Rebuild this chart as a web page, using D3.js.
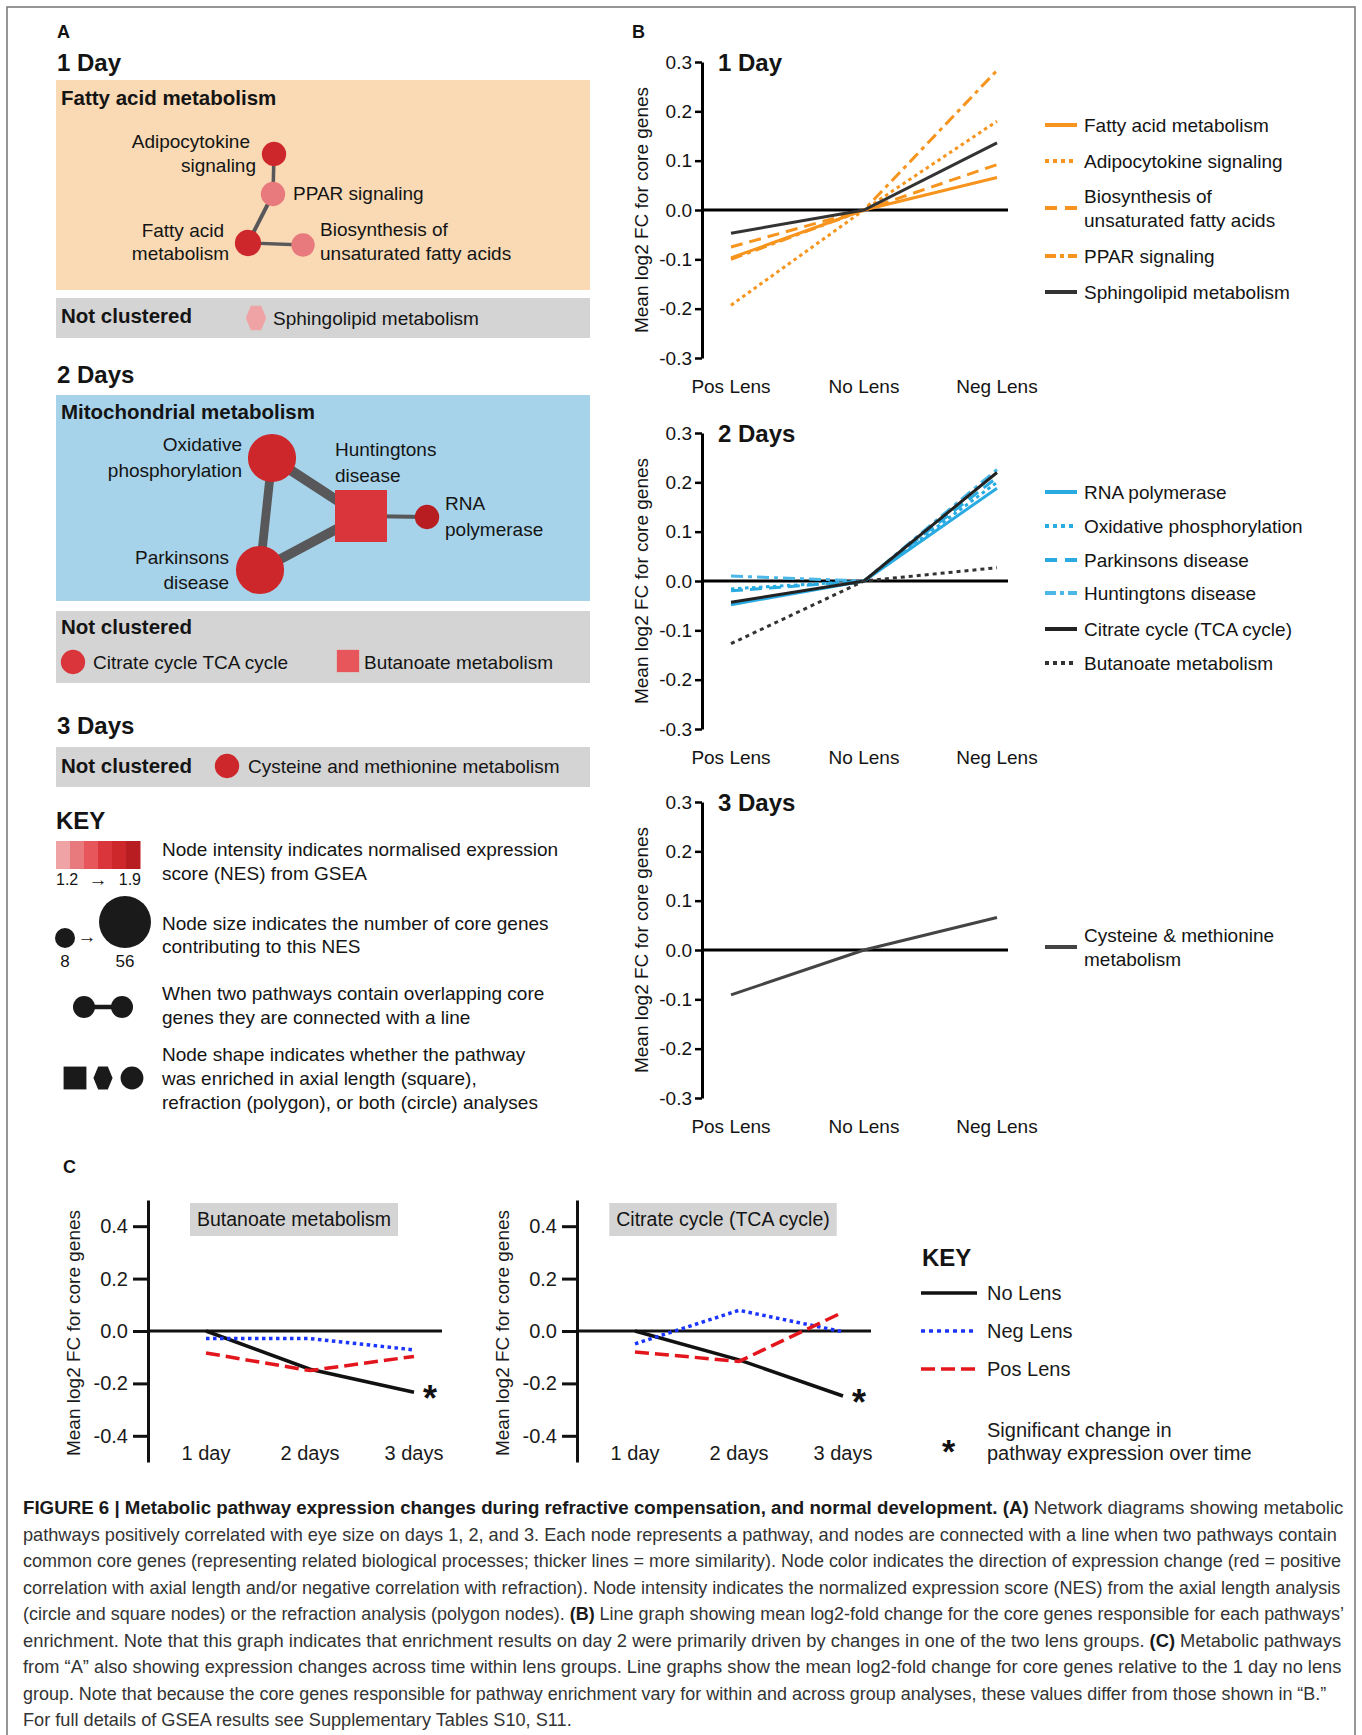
<!DOCTYPE html>
<html>
<head>
<meta charset="utf-8">
<title>Figure 6 – Metabolic pathway expression</title>
<script src="https://cdn.jsdelivr.net/npm/d3@7/dist/d3.min.js"></script>
<style>
  html, body { margin: 0; padding: 0; background: #fff; }
  svg { display: block; }
</style>
</head>
<body>
<svg id="fig" width="1362" height="1735"></svg>
<script>
// ---------------- data ----------------

// Panel B: mean log2 FC for core genes per lens group
const lensGroups = ["Pos Lens", "No Lens", "Neg Lens"];
const fcTicks = [-0.3, -0.2, -0.1, 0, 0.1, 0.2, 0.3];

const day1Pathways = ["Fatty acid metabolism", "Adipocytokine signaling",
  "Biosynthesis of|unsaturated fatty acids", "PPAR signaling", "Sphingolipid metabolism"];
const day1FC = [
  [-0.097, 0, 0.066],
  [-0.193, 0, 0.180],
  [-0.075, 0, 0.092],
  [-0.100, 0, 0.283],
  [-0.047, 0, 0.136]
];

const day2Pathways = ["RNA polymerase", "Oxidative phosphorylation", "Parkinsons disease",
  "Huntingtons disease", "Citrate cycle (TCA cycle)", "Butanoate metabolism"];
const day2FC = [
  [-0.048, 0, 0.188],
  [-0.016, 0, 0.200],
  [-0.020, 0, 0.210],
  [ 0.010, 0, 0.226],
  [-0.043, 0, 0.220],
  [-0.127, 0, 0.027]
];

const day3Pathways = ["Cysteine & methionine|metabolism"];
const day3FC = [[-0.091, 0, 0.066]];

// Panel C: change across time within lens groups
const timePoints = ["1 day", "2 days", "3 days"];
const timeTicks = [-0.4, -0.2, 0, 0.2, 0.4];
const lensSeries = ["No Lens", "Neg Lens", "Pos Lens"];
const butanoateFC = [
  [0.000, -0.146, -0.234],
  [-0.029, -0.029, -0.072],
  [-0.084, -0.151, -0.097]
];
const citrateFC = [
  [0.000, -0.110, -0.248],
  [-0.049, 0.079, -0.003],
  [-0.080, -0.116, 0.072]
];
const significantSeries = ["No Lens"];

// Panel A: network nodes (NES, number of core genes, enrichment analysis shape)
const nesRange = [1.2, 1.9];
const coreGeneRange = [8, 56];
const day1Nodes = [
  { name: "Adipocytokine signaling", nes: 1.74, genes: 12, shape: "circle" },
  { name: "PPAR signaling", nes: 1.40, genes: 12, shape: "circle" },
  { name: "Fatty acid metabolism", nes: 1.70, genes: 14, shape: "circle" },
  { name: "Biosynthesis of unsaturated fatty acids", nes: 1.42, genes: 11, shape: "circle" }
];
const day1Edges = [
  ["Adipocytokine signaling", "PPAR signaling", 0.32],
  ["PPAR signaling", "Fatty acid metabolism", 0.36],
  ["Fatty acid metabolism", "Biosynthesis of unsaturated fatty acids", 0.30]
];
const day1Unclustered = [
  { name: "Sphingolipid metabolism", nes: 1.25, genes: 12, shape: "polygon" }
];
const day2Nodes = [
  { name: "Oxidative phosphorylation", nes: 1.75, genes: 48, shape: "circle" },
  { name: "Parkinsons disease", nes: 1.75, genes: 48, shape: "circle" },
  { name: "Huntingtons disease", nes: 1.62, genes: 56, shape: "square" },
  { name: "RNA polymerase", nes: 1.85, genes: 12, shape: "circle" }
];
const day2Edges = [
  ["Oxidative phosphorylation", "Parkinsons disease", 0.80],
  ["Oxidative phosphorylation", "Huntingtons disease", 0.90],
  ["Parkinsons disease", "Huntingtons disease", 0.90],
  ["Huntingtons disease", "RNA polymerase", 0.36]
];
const day2Unclustered = [
  { name: "Citrate cycle TCA cycle", nes: 1.63, genes: 12, shape: "circle" },
  { name: "Butanoate metabolism", nes: 1.50, genes: 10, shape: "square" }
];
const day3Unclustered = [
  { name: "Cysteine and methionine metabolism", nes: 1.74, genes: 12, shape: "circle" }
];

// Caption text, line by line ([text, bold])
const captionLines = [
  [["FIGURE 6 | Metabolic pathway expression changes during refractive compensation, and normal development. (A)", true], [" Network diagrams showing metabolic", false]],
  [["pathways positively correlated with eye size on days 1, 2, and 3. Each node represents a pathway, and nodes are connected with a line when two pathways contain", false]],
  [["common core genes (representing related biological processes; thicker lines = more similarity). Node color indicates the direction of expression change (red = positive", false]],
  [["correlation with axial length and/or negative correlation with refraction). Node intensity indicates the normalized expression score (NES) from the axial length analysis", false]],
  [["(circle and square nodes) or the refraction analysis (polygon nodes). ", false], ["(B)", true], [" Line graph showing mean log2-fold change for the core genes responsible for each pathways\u2019", false]],
  [["enrichment. Note that this graph indicates that enrichment results on day 2 were primarily driven by changes in one of the two lens groups. ", false], ["(C)", true], [" Metabolic pathways", false]],
  [["from \u201cA\u201d also showing expression changes across time within lens groups. Line graphs show the mean log2-fold change for core genes relative to the 1 day no lens", false]],
  [["group. Note that because the core genes responsible for pathway enrichment vary for within and across group analyses, these values differ from those shown in \u201cB.\u201d", false]],
  [["For full details of GSEA results see Supplementary Tables S10, S11.", false]]
];

// ---------------- styles & helpers ----------------
const FONT = '"Liberation Sans", Arial, Helvetica, sans-serif';
const ORANGE = "#f7941d";
const SKY = "#29abe2";
const nesShades = ["#f0a3a5", "#e8797d", "#e6565a", "#d9353a", "#cd272c", "#b81d22"];
const nesColor = d3.scaleQuantize().domain(nesRange).range(nesShades);
const geneRadius = d3.scaleSqrt().domain(coreGeneRange).range([10, 26]);
const overlapWidth = d3.scaleLinear().domain([0, 1]).range([0, 11]);

const svg = d3.select("#fig");

function label(parent, x, y, str, size, anchor = "start", weight = "normal", fill = "#141414") {
  return parent.append("text")
    .attr("x", x).attr("y", y).attr("dy", "0.35em")
    .attr("font-family", FONT).attr("font-size", size)
    .attr("font-weight", weight).attr("text-anchor", anchor)
    .attr("fill", fill).text(str);
}

function hexPath(cx, cy, r) {
  const w = r * 0.84, h = r;
  const pts = [[-w, 0], [-w / 2, -h], [w / 2, -h], [w, 0], [w / 2, h], [-w / 2, h]];
  return "M" + pts.map(p => (cx + p[0]) + "," + (cy + p[1])).join("L") + "Z";
}

function drawNode(parent, node, cx, cy, fill) {
  const r = geneRadius(node.genes);
  const color = fill || nesColor(node.nes);
  if (node.shape === "circle") {
    parent.append("circle").attr("cx", cx).attr("cy", cy).attr("r", r).attr("fill", color);
  } else if (node.shape === "square") {
    parent.append("rect").attr("x", cx - r).attr("y", cy - r)
      .attr("width", 2 * r).attr("height", 2 * r).attr("fill", color);
  } else {
    parent.append("path").attr("d", hexPath(cx, cy, r)).attr("fill", color);
  }
}

function drawNetwork(parent, nodes, edges, layout) {
  parent.selectAll(null).data(edges).enter().append("line")
    .attr("x1", d => layout[d[0]].x).attr("y1", d => layout[d[0]].y)
    .attr("x2", d => layout[d[1]].x).attr("y2", d => layout[d[1]].y)
    .attr("stroke", "#58585a").attr("stroke-width", d => overlapWidth(d[2]));
  nodes.forEach(n => {
    const p = layout[n.name];
    drawNode(parent, n, p.x, p.y);
    p.labels.forEach(l => label(parent, l[0], l[1], l[2], 19, p.anchor));
  });
}

// ---------------- frame ----------------
svg.append("rect").attr("x", 7).attr("y", 7).attr("width", 1348).attr("height", 1760)
  .attr("fill", "none").attr("stroke", "#7d7d7d").attr("stroke-width", 1.6);

// ---------------- panel A ----------------
const gA = svg.append("g");
label(gA, 57, 32, "A", 18, "start", "bold");

// 1 Day
label(gA, 57, 63, "1 Day", 24, "start", "bold");
gA.append("rect").attr("x", 56).attr("y", 80).attr("width", 534).attr("height", 210).attr("fill", "#f9dab4");
label(gA, 61, 98, "Fatty acid metabolism", 20.5, "start", "bold");
drawNetwork(gA, day1Nodes, day1Edges, {
  "Adipocytokine signaling": { x: 274, y: 154, anchor: "end", labels: [[250, 141, "Adipocytokine"], [256, 165, "signaling"]] },
  "PPAR signaling": { x: 273, y: 194, anchor: "start", labels: [[293, 193, "PPAR signaling"]] },
  "Fatty acid metabolism": { x: 248, y: 243, anchor: "end", labels: [[224, 230, "Fatty acid"], [229, 253, "metabolism"]] },
  "Biosynthesis of unsaturated fatty acids": { x: 303, y: 245, anchor: "start", labels: [[320, 229, "Biosynthesis of"], [320, 253, "unsaturated fatty acids"]] }
});
gA.append("rect").attr("x", 56).attr("y", 298).attr("width", 534).attr("height", 40).attr("fill", "#d4d4d4");
label(gA, 61, 316, "Not clustered", 20.5, "start", "bold");
drawNode(gA, day1Unclustered[0], 256, 318);
label(gA, 273, 318, day1Unclustered[0].name, 19);

// 2 Days
label(gA, 57, 375, "2 Days", 24, "start", "bold");
gA.append("rect").attr("x", 56).attr("y", 395).attr("width", 534).attr("height", 206).attr("fill", "#a7d3ea");
label(gA, 61, 412, "Mitochondrial metabolism", 20.5, "start", "bold");
drawNetwork(gA, day2Nodes, day2Edges, {
  "Oxidative phosphorylation": { x: 272, y: 458, anchor: "end", labels: [[242, 444, "Oxidative"], [242, 470, "phosphorylation"]] },
  "Parkinsons disease": { x: 260, y: 570, anchor: "end", labels: [[229, 557, "Parkinsons"], [229, 582, "disease"]] },
  "Huntingtons disease": { x: 361, y: 516, anchor: "start", labels: [[335, 449, "Huntingtons"], [335, 475, "disease"]] },
  "RNA polymerase": { x: 427, y: 517, anchor: "start", labels: [[445, 503, "RNA"], [445, 529, "polymerase"]] }
});
gA.append("rect").attr("x", 56).attr("y", 611).attr("width", 534).attr("height", 72).attr("fill", "#d4d4d4");
label(gA, 61, 627, "Not clustered", 20.5, "start", "bold");
drawNode(gA, day2Unclustered[0], 73, 662);
label(gA, 93, 662, day2Unclustered[0].name, 19);
drawNode(gA, day2Unclustered[1], 348, 661);
label(gA, 364, 662, day2Unclustered[1].name, 19);

// 3 Days
label(gA, 57, 726, "3 Days", 24, "start", "bold");
gA.append("rect").attr("x", 56).attr("y", 747).attr("width", 534).attr("height", 40).attr("fill", "#d4d4d4");
label(gA, 61, 766, "Not clustered", 20.5, "start", "bold");
drawNode(gA, day3Unclustered[0], 227, 766);
label(gA, 248, 766, day3Unclustered[0].name, 19);

// KEY
label(gA, 56, 821, "KEY", 24, "start", "bold");
gA.selectAll(null).data(nesColor.range()).enter().append("rect")
  .attr("x", (d, i) => 56 + i * 14).attr("y", 841).attr("width", 14.5).attr("height", 28)
  .attr("fill", d => d);
label(gA, 56, 879, nesRange[0].toFixed(1), 16);
label(gA, 98, 879, "\u2192", 19, "middle");
label(gA, 141, 879, nesRange[1].toFixed(1), 16, "end");
label(gA, 162, 849, "Node intensity indicates normalised expression", 19);
label(gA, 162, 873, "score (NES) from GSEA", 19);

gA.append("circle").attr("cx", 65).attr("cy", 938).attr("r", geneRadius(coreGeneRange[0])).attr("fill", "#1a1a1a");
label(gA, 87, 936, "\u2192", 19, "middle");
gA.append("circle").attr("cx", 125).attr("cy", 922).attr("r", geneRadius(coreGeneRange[1])).attr("fill", "#1a1a1a");
label(gA, 65, 961, String(coreGeneRange[0]), 17, "middle");
label(gA, 125, 961, String(coreGeneRange[1]), 17, "middle");
label(gA, 162, 923, "Node size indicates the number of core genes", 19);
label(gA, 162, 946, "contributing to this NES", 19);

gA.append("line").attr("x1", 84).attr("x2", 122).attr("y1", 1007).attr("y2", 1007)
  .attr("stroke", "#1a1a1a").attr("stroke-width", 4.5);
gA.append("circle").attr("cx", 84).attr("cy", 1007).attr("r", 11).attr("fill", "#1a1a1a");
gA.append("circle").attr("cx", 122).attr("cy", 1007).attr("r", 11).attr("fill", "#1a1a1a");
label(gA, 162, 993, "When two pathways contain overlapping core", 19);
label(gA, 162, 1017, "genes they are connected with a line", 19);

const keyShapes = ["square", "polygon", "circle"];
keyShapes.forEach((s, i) => drawNode(gA, { shape: s, genes: 10.5, nes: 1.9 }, [75, 103, 132][i], 1078, "#1a1a1a"));
label(gA, 162, 1054, "Node shape indicates whether the pathway", 19);
label(gA, 162, 1078, "was enriched in axial length (square),", 19);
label(gA, 162, 1102, "refraction (polygon), or both (circle) analyses", 19);

// ---------------- panel B ----------------
const gB = svg.append("g");
label(gB, 632, 32, "B", 18, "start", "bold");

const day1Styles = [
  { color: ORANGE, dash: null, key: null },
  { color: ORANGE, dash: "3.5 3.5", key: "4 4" },
  { color: ORANGE, dash: "12 7", key: "12 8" },
  { color: ORANGE, dash: "12 5 4 5", key: "11 4 4 4" },
  { color: "#333", dash: null, key: null }
];
const day2Styles = [
  { color: SKY, dash: null, key: null },
  { color: SKY, dash: "3.5 3.5", key: "4 4" },
  { color: SKY, dash: "12 7", key: "12 8" },
  { color: "#4cb8e8", dash: "12 5 4 5", key: "11 4 4 4" },
  { color: "#222", dash: null, key: null },
  { color: "#333", dash: "4 4", key: "4 4" }
];
const day3Styles = [{ color: "#444", dash: null, key: null }];

function lensChart(top, title, names, values, styles, legendRows) {
  const g = gB.append("g");
  const y = d3.scaleLinear().domain([-0.3, 0.3]).range([top + 296, top]);
  const x = d3.scalePoint().domain(lensGroups).range([731, 997]);
  const axisX = 702;

  const ax = g.append("g").attr("transform", `translate(${axisX},0)`)
    .call(d3.axisLeft(y).tickValues(fcTicks).tickFormat(d => d.toFixed(1))
      .tickSize(7).tickSizeOuter(0).tickPadding(3));
  ax.select(".domain").attr("stroke", "#000").attr("stroke-width", 3);
  ax.selectAll(".tick line").attr("stroke", "#000").attr("stroke-width", 2.5);
  ax.selectAll(".tick text").attr("font-family", FONT).attr("font-size", 19).attr("fill", "#141414");

  g.append("text").attr("transform", `translate(641,${top + 148}) rotate(-90)`)
    .attr("dy", "0.35em").attr("text-anchor", "middle")
    .attr("font-family", FONT).attr("font-size", 19).attr("fill", "#141414")
    .text("Mean log2 FC for core genes");

  label(g, 718, top + 1, title, 24, "start", "bold");

  g.selectAll(null).data(lensGroups).enter().append("text")
    .attr("x", d => x(d)).attr("y", top + 324).attr("dy", "0.35em")
    .attr("text-anchor", "middle").attr("font-family", FONT).attr("font-size", 19)
    .attr("fill", "#141414").text(d => d);

  g.append("line").attr("x1", axisX).attr("x2", 1008).attr("y1", y(0)).attr("y2", y(0))
    .attr("stroke", "#000").attr("stroke-width", 3);

  const line = d3.line().x((d, i) => x(lensGroups[i])).y(d => y(d));
  g.selectAll(null).data(values).enter().append("path")
    .attr("d", line).attr("fill", "none")
    .attr("stroke", (d, i) => styles[i].color).attr("stroke-width", 3)
    .attr("stroke-dasharray", (d, i) => styles[i].dash);

  names.forEach((n, i) => {
    const cy = top + legendRows[i];
    g.append("line").attr("x1", 1045).attr("x2", 1077).attr("y1", cy).attr("y2", cy)
      .attr("stroke", styles[i].color).attr("stroke-width", 4)
      .attr("stroke-dasharray", styles[i].key);
    const parts = n.split("|");
    parts.forEach((p, j) => label(g, 1084, cy + (j - (parts.length - 1) / 2) * 24, p, 19));
  });
}

lensChart(62, "1 Day", day1Pathways, day1FC, day1Styles, [63, 99, 146, 194, 230]);
lensChart(433, "2 Days", day2Pathways, day2FC, day2Styles, [59, 93, 127, 160, 196, 230]);
lensChart(802, "3 Days", day3Pathways, day3FC, day3Styles, [145]);

// ---------------- panel C ----------------
const gC = svg.append("g");
label(gC, 63, 1167, "C", 18, "start", "bold");

const lensStyles = {
  "No Lens": { color: "#111", dash: null, key: null },
  "Neg Lens": { color: "#1b35ff", dash: "3.5 3.5", key: "4 4" },
  "Pos Lens": { color: "#e3161d", dash: "14 6", key: "14 6" }
};

function timeChart(axisX, title, values) {
  const g = gC.append("g");
  const y = d3.scaleLinear().domain([-0.5, 0.5]).range([1462, 1200]);
  const x = d3.scalePoint().domain(timePoints).range([axisX + 58, axisX + 266]);

  // title tag
  const tagBox = g.append("rect").attr("y", 1203).attr("height", 33).attr("fill", "#d4d4d4");
  const tag = label(g, axisX + 146, 1219.5, title, 19.5, "middle");
  const tw = tag.node().getComputedTextLength();
  tagBox.attr("x", axisX + 146 - tw / 2 - 7).attr("width", tw + 14);

  const ax = g.append("g").attr("transform", `translate(${axisX},0)`)
    .call(d3.axisLeft(y).tickValues(timeTicks).tickFormat(d => d.toFixed(1))
      .tickSize(15).tickSizeOuter(0).tickPadding(5));
  ax.select(".domain").attr("stroke", "#111").attr("stroke-width", 3);
  ax.selectAll(".tick line").attr("stroke", "#111").attr("stroke-width", 3);
  ax.selectAll(".tick text").attr("font-family", FONT).attr("font-size", 20).attr("fill", "#1a1a1a");

  g.append("text").attr("transform", `translate(${axisX - 75},1333) rotate(-90)`)
    .attr("dy", "0.35em").attr("text-anchor", "middle")
    .attr("font-family", FONT).attr("font-size", 19).attr("fill", "#1a1a1a")
    .text("Mean log2 FC for core genes");

  g.append("line").attr("x1", axisX).attr("x2", axisX + 294).attr("y1", y(0)).attr("y2", y(0))
    .attr("stroke", "#111").attr("stroke-width", 3);

  g.selectAll(null).data(timePoints).enter().append("text")
    .attr("x", d => x(d)).attr("y", 1453).attr("dy", "0.35em")
    .attr("text-anchor", "middle").attr("font-family", FONT).attr("font-size", 20)
    .attr("fill", "#1a1a1a").text(d => d);

  const line = d3.line().x((d, i) => x(timePoints[i])).y(d => y(d));
  lensSeries.forEach((s, i) => {
    g.append("path").attr("d", line(values[i])).attr("fill", "none")
      .attr("stroke", lensStyles[s].color).attr("stroke-width", 3.5)
      .attr("stroke-dasharray", lensStyles[s].dash);
    if (significantSeries.includes(s)) {
      const last = values[i][values[i].length - 1];
      g.append("text").attr("x", x(timePoints[2]) + 9).attr("y", y(last) + 19)
        .attr("font-family", FONT).attr("font-size", 36).attr("font-weight", "bold")
        .attr("fill", "#111").text("*");
    }
  });
}

timeChart(148, "Butanoate metabolism", butanoateFC);
timeChart(577, "Citrate cycle (TCA cycle)", citrateFC);

// panel C key
label(gC, 922, 1258, "KEY", 24, "start", "bold");
lensSeries.forEach((s, i) => {
  const cy = 1293 + i * 38;
  gC.append("line").attr("x1", 921).attr("x2", 977).attr("y1", cy).attr("y2", cy)
    .attr("stroke", lensStyles[s].color).attr("stroke-width", 3.5)
    .attr("stroke-dasharray", lensStyles[s].key);
  label(gC, 987, cy, s, 20, "start", "normal", "#1a1a1a");
});
gC.append("text").attr("x", 942).attr("y", 1463)
  .attr("font-family", FONT).attr("font-size", 34).attr("font-weight", "bold")
  .attr("fill", "#111").text("*");
label(gC, 987, 1430, "Significant change in", 20, "start", "normal", "#1a1a1a");
label(gC, 987, 1453, "pathway expression over time", 20, "start", "normal", "#1a1a1a");

// ---------------- caption ----------------
const gCap = svg.append("g");
const capRight = [1344, 1338, 1342, 1342, 1345, 1342, 1342, 1327];
const capLeft = 23;
const capNodes = captionLines.map((segs) => {
  const t = gCap.append("text").attr("font-family", FONT).attr("font-size", 18.5)
    .attr("fill", "#333").attr("dy", "0.35em");
  segs.forEach(s => t.append("tspan").attr("font-weight", s[1] ? "bold" : "normal")
    .attr("fill", s[1] ? "#1a1a1a" : "#333").text(s[0]));
  return t;
});
const capScales = capNodes.map((t, i) => i < capRight.length
  ? (capRight[i] - capLeft) / t.node().getComputedTextLength() : null);
const meanScale = d3.mean(capScales.filter(v => v));
capNodes.forEach((t, i) => {
  const s = capScales[i] || meanScale;
  t.attr("transform", `translate(${capLeft},${1508 + i * 26.5}) scale(${s},1)`);
});
</script>
</body>
</html>
